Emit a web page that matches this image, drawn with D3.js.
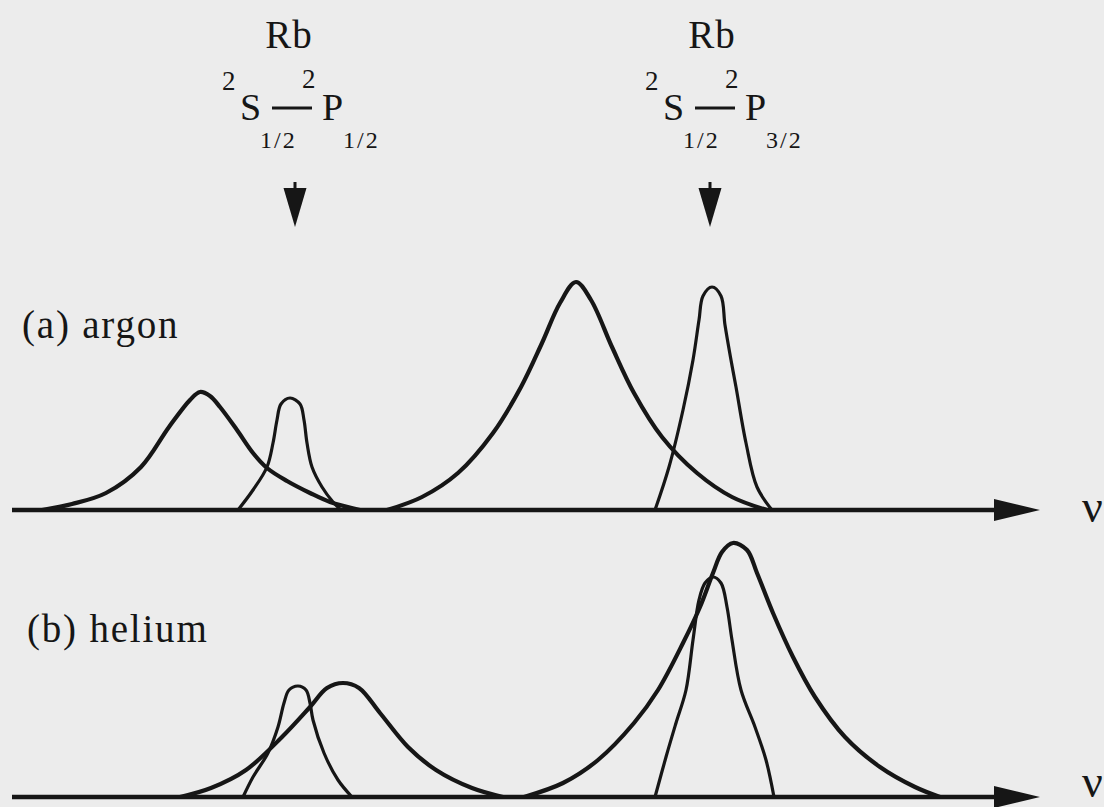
<!DOCTYPE html>
<html>
<head>
<meta charset="utf-8">
<script src="https://cdn.jsdelivr.net/npm/d3@7"></script>
<style>
  body { margin: 0; background: #ececec; }
  svg { display: block; }
</style>
</head>
<body>
<div id="fig"></div>
<script>
// Panel titles and line labels
const panelLabels = ["(a) argon", "(b) helium"];
const transitionLabels = [
  {atom: "Rb", lower: "S", upper: "P", lowerJ: "1/2", upperJ: "1/2"},
  {atom: "Rb", lower: "S", upper: "P", lowerJ: "1/2", upperJ: "3/2"}
];
// unperturbed line positions (frequency, arbitrary units)
const linePositions = [28.3, 69.8];

// line profiles: [frequency, intensity]
const argonD1Broad = [[3.0,0],[6.0,2.4],[9.4,6.8],[12.9,17.2],[15.7,33.2],[17.8,44],[18.8,47.2],[19.8,45.6],[20.8,41.2],[22.5,32],[24.1,22.8],[25.5,16.8],[27.5,11.6],[29.8,6.8],[31.8,3.2],[34.8,0]];
const argonD1Narrow = [[22.6,0],[24.1,8],[25.5,17.2],[26.1,26.8],[26.5,36],[26.9,42.4],[27.8,44.8],[28.8,42.4],[29.2,36],[29.5,26.8],[30.0,17.2],[31.0,9.2],[32.1,3.2],[32.9,0]];
const argonD2Broad = [[37.5,0],[41.0,5.2],[44.6,14.8],[48.1,30.8],[50.9,49.2],[53.0,66.8],[54.8,82.8],[56.4,91.2],[57.9,84],[60.0,65.2],[62.2,46.8],[65.0,29.2],[68.5,14.8],[72.0,5.2],[75.5,0]];
const argonD2Narrow = [[64.3,0],[65.7,17.2],[67.1,40],[68.1,60],[68.7,76],[69.1,85.6],[70.0,89.2],[70.9,85.6],[71.3,74],[71.9,60],[72.4,49.2],[73.4,26.8],[74.5,9.2],[76.0,0]];

const heliumD1Narrow = [[23.1,0],[24.1,8],[25.6,17.6],[26.6,28],[27.2,37.6],[27.7,42.8],[28.6,44.4],[29.4,42.8],[29.8,37.6],[30.1,30.8],[31.2,17.6],[32.6,6.8],[34.0,0]];
const heliumD1Broad = [[16.8,0],[19.9,3.6],[23.4,10.8],[27.0,24],[29.8,36],[31.5,43.6],[33.1,45.6],[34.7,43.6],[36.8,33.6],[39.6,20],[42.4,10.8],[46.0,3.6],[49.1,0]];
const heliumD2Broad = [[51.2,0],[55.1,5.6],[58.6,14.8],[62.2,29.6],[64.6,42.8],[67.1,61.6],[68.8,76],[70.1,89.6],[71.0,98],[72.1,101.6],[73.5,98.8],[74.5,89.6],[76.1,73.6],[78.1,56],[80.3,40],[83.3,24],[86.8,12],[90.3,4],[92.8,0]];
const heliumD2Narrow = [[64.3,0],[65.4,16],[66.4,29.6],[67.4,42.8],[68.1,62.8],[68.7,78.8],[69.3,85.6],[70.1,88],[70.9,85.6],[71.5,76],[72.0,62.8],[72.9,42.8],[74.3,28],[75.4,14.8],[76.2,0]];

const width = 1104, height = 807;
const baselines = [510, 797];
const ink = "#161616";

const svg = d3.select("#fig")
  .append("svg")
    .attr("width", width)
    .attr("height", height)
    .attr("font-family", "'Liberation Serif'")
    .attr("fill", ink);

svg.append("rect")
  .attr("width", width)
  .attr("height", height)
  .attr("fill", "#ececec");

const x = d3.scaleLinear().domain([0, 102.8]).range([12, 1040]);
const y = d3.scaleLinear().domain([0, 100]).range([0, -250]);

const line = d3.line()
  .x(d => x(d[0]))
  .y(d => y(d[1]))
  .curve(d3.curveCatmullRom.alpha(0.5));

const panels = [
  {label: panelLabels[0], broad: [argonD1Broad, argonD2Broad], narrow: [argonD1Narrow, argonD2Narrow]},
  {label: panelLabels[1], broad: [heliumD1Broad, heliumD2Broad], narrow: [heliumD1Narrow, heliumD2Narrow]}
];

panels.forEach((p, i) => {
  const g = svg.append("g")
    .attr("transform", "translate(0," + baselines[i] + ")");

  // frequency axis with arrow
  g.append("line")
    .attr("x1", x(0)).attr("x2", x(98.6))
    .attr("y1", 0).attr("y2", 0)
    .attr("stroke", ink)
    .attr("stroke-width", 4.5);
  g.append("path")
    .attr("d", "M" + x(98.2) + ",-11L" + x(102.8) + ",0L" + x(98.2) + ",11Z")
    .attr("fill", ink);
  g.append("text")
    .attr("x", 1082).attr("y", i === 0 ? 12 : 0)
    .attr("font-size", 46)
    .text("ν");

  g.append("text")
    .attr("x", 22 + i * 5).attr("y", i === 0 ? -172 : -155)
    .attr("font-size", 39)
    .attr("letter-spacing", 1.8)
    .text(p.label);

  g.selectAll("path.broad")
    .data(p.broad)
    .enter()
    .append("path")
      .attr("class", "broad")
      .attr("d", line)
      .attr("fill", "none")
      .attr("stroke", ink)
      .attr("stroke-width", 4.2)
      .attr("stroke-linejoin", "round");

  g.selectAll("path.narrow")
    .data(p.narrow)
    .enter()
    .append("path")
      .attr("class", "narrow")
      .attr("d", line)
      .attr("fill", "none")
      .attr("stroke", ink)
      .attr("stroke-width", 3.2)
      .attr("stroke-linejoin", "round");
});

// transition labels and arrows at top
const labelShift = [-73, -65];
transitionLabels.forEach((t, i) => {
  const ax = x(linePositions[i]);
  const ox = ax + labelShift[i];
  const g = svg.append("g");

  g.append("text").attr("x", ox + 67).attr("y", 48)
    .attr("text-anchor", "middle")
    .attr("font-size", 39)
    .attr("letter-spacing", 1)
    .text(t.atom);

  g.append("text").attr("x", ox).attr("y", 90).attr("font-size", 27).text("2");
  g.append("text").attr("x", ox + 18).attr("y", 120).attr("font-size", 38).text(t.lower);
  g.append("line")
    .attr("x1", ox + 50).attr("x2", ox + 90)
    .attr("y1", 108).attr("y2", 108)
    .attr("stroke", ink).attr("stroke-width", 3);
  g.append("text").attr("x", ox + 80).attr("y", 88).attr("font-size", 27).text("2");
  g.append("text").attr("x", ox + 100).attr("y", 120).attr("font-size", 38).text(t.upper);
  g.append("text").attr("x", ox + 38).attr("y", 148)
    .attr("font-size", 24).attr("letter-spacing", 2).text(t.lowerJ);
  g.append("text").attr("x", ox + 121).attr("y", 148)
    .attr("font-size", 24).attr("letter-spacing", 2).text(t.upperJ);

  // down arrow pointing at the unperturbed line
  g.append("line")
    .attr("x1", ax).attr("x2", ax)
    .attr("y1", 182).attr("y2", 192)
    .attr("stroke", ink).attr("stroke-width", 3);
  g.append("path")
    .attr("d", "M" + (ax - 11.5) + ",188L" + (ax + 11.5) + ",188L" + ax + ",227Z")
    .attr("fill", ink);
});
</script>
</body>
</html>
